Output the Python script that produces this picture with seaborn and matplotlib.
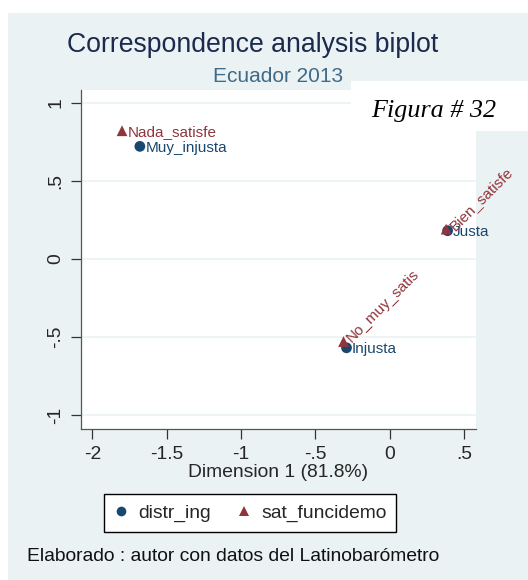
import numpy as np
import pandas as pd
import matplotlib
matplotlib.use("Agg")
import matplotlib.pyplot as plt
import seaborn as sns
from matplotlib.patches import Rectangle

# coordinates
categories = ['Muy_injusta', 'Justa', 'Injusta', 'Nada_satisfe', 'Bien_satisfe', 'No_muy_satis']
variables = ['distr_ing', 'distr_ing', 'distr_ing', 'sat_funcidemo', 'sat_funcidemo', 'sat_funcidemo']
dim1 = [-1.68, 0.39, -0.29, -1.80, 0.38, -0.31]
dim2 = [0.72, 0.18, -0.57, 0.82, 0.19, -0.53]
label_angle = [0, 0, 0, 0, 45, 45]

xticks = [-2, -1.5, -1, -0.5, 0, 0.5]
xtick_labels = ['-2', '-1.5', '-1', '-.5', '0', '.5']
yticks = [-1, -0.5, 0, 0.5, 1]
ytick_labels = ['-1', '-.5', '0', '.5', '1']

df = pd.DataFrame({'cat': categories, 'var': variables, 'x': dim1, 'y': dim2, 'ang': label_angle})

navy = '#1A476F'
maroon = '#90353B'
bg = '#EAF2F3'

sns.set_theme(style="white")
plt.rcParams['font.family'] = ['Liberation Sans', 'DejaVu Sans']

W, H = 528, 580
fig = plt.figure(figsize=(W / 100, H / 100), dpi=100, facecolor='white')
fig.patches.append(Rectangle((8 / W, 0), 1, 1 - 13 / H, transform=fig.transFigure,
                             facecolor=bg, edgecolor='none', zorder=-10))

ax = fig.add_axes([80.7 / W, 1 - 429 / H, (476 - 80.7) / W, (429 - 90) / H])
ax.set_facecolor('white')
ax.set_zorder(1)

sns.scatterplot(data=df, x='x', y='y', hue='var', style='var',
                palette={'distr_ing': navy, 'sat_funcidemo': maroon},
                markers={'distr_ing': 'o', 'sat_funcidemo': '^'},
                s=60, linewidth=0, ax=ax, zorder=3)

for _, row in df.iterrows():
    col = navy if row['var'] == 'distr_ing' else maroon
    ax.annotate(row['cat'], (row['x'], row['y']), xytext=(4, -1) if row['ang'] == 0 else (4, 1),
                textcoords='offset points', rotation=row['ang'], rotation_mode='anchor',
                ha='left', va='center', color=col, fontsize=11, zorder=4)

ax.set_xlim(-2.078, 0.581)
ax.set_ylim(-1.09, 1.081)
ax.set_xticks(xticks)
ax.set_xticklabels(xtick_labels)
ax.set_yticks(yticks)
ax.set_yticklabels(ytick_labels, rotation=90, va='center')
ax.tick_params(axis='both', labelsize=13.9, length=7, width=0.9, color='#333333',
               direction='out', left=True, bottom=True, pad=5)
ax.grid(axis='y', color=bg, linewidth=1.2)
ax.grid(axis='x', visible=False)
for side in ['top', 'right']:
    ax.spines[side].set_visible(False)
for side in ['left', 'bottom']:
    ax.spines[side].set_color('#555555')
    ax.spines[side].set_linewidth(0.9)
ax.set_xlabel('Dimension 1 (81.8%)', fontsize=13.9, labelpad=1)
ax.set_ylabel('')

handles, labels = ax.get_legend_handles_labels()
ax.legend(handles, labels, loc='center', bbox_to_anchor=(250 / W, 1 - 513 / H),
          bbox_transform=fig.transFigure, ncol=2, fontsize=13.9, frameon=True,
          fancybox=False, edgecolor='black', facecolor='white', framealpha=1,
          handlelength=0.8, handletextpad=0.5, columnspacing=1.3, borderpad=0.5,
          markerscale=0.9)

fig.text(253 / W, 1 - 52 / H, 'Correspondence analysis biplot', ha='center', va='baseline',
         fontsize=19.2, color='#1C2A4E')
fig.text(278 / W, 1 - 82 / H, 'Ecuador 2013', ha='center', va='baseline',
         fontsize=15, color='#3F6A88')

box = Rectangle((351 / W, 1 - 131 / H), (W - 351) / W, 50 / H, transform=fig.transFigure,
                facecolor='white', edgecolor='none')
box.set_zorder(5)
fig.artists.append(box)
box.set_figure(fig)
fig.text(434 / W, 1 - 116.7 / H, 'Figura # 32', ha='center', va='baseline', fontsize=18.8,
         style='italic', family=['Liberation Serif', 'DejaVu Serif'], color='black', zorder=6)

fig.text(26.7 / W, 1 - 560.7 / H, 'Elaborado : autor con datos del Latinobarómetro',
         ha='left', va='baseline', fontsize=13.9, color='#111111')

fig.savefig('out.png', dpi=100, facecolor='white')
